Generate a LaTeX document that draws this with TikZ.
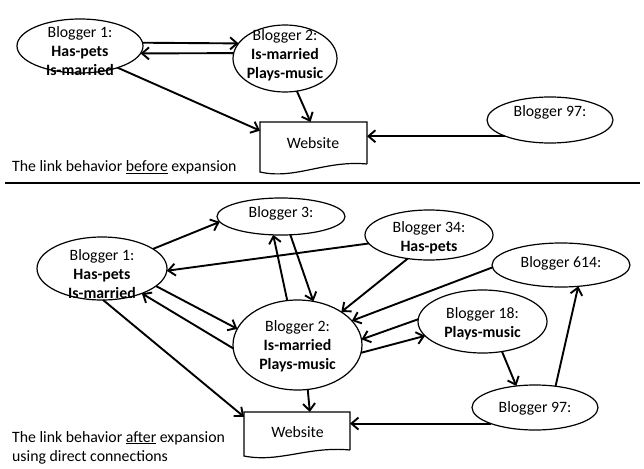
\documentclass[tikz,border=0pt]{standalone}
\usepackage{fontspec}
\setmainfont{Carlito}
\usetikzlibrary{shapes.geometric,arrows.meta,calc}
\tikzset{
  blog/.style={ellipse, draw, line width=1.2pt, inner sep=0pt, outer sep=0pt},
  txt/.style={align=center, inner sep=0pt, font=\fontsize{15.8pt}{19pt}\selectfont},
  captxt/.style={align=left, anchor=west, inner sep=0pt, font=\fontsize{15.8pt}{19pt}\selectfont},
  webbox/.style={rectangle, inner sep=0pt, outer sep=0pt},
  webline/.style={line width=1.2pt, line join=miter},
  arr/.style={line width=1.9pt, -{Straight Barb[length=7pt,width=12pt]}},
  sepline/.style={line width=2.4pt}
}
\begin{document}
\begin{tikzpicture}[x=1pt,y=-1pt]
\useasboundingbox (0,0) rectangle (644,468);
% ---------- top part ----------
\node[blog, minimum width=126pt, minimum height=54pt] (tb1) at (80,46) {};
\node[txt] (tb1t) at (80,51) {Blogger 1:\\\textbf{Has-pets}\\\textbf{Is-married}};
\node[blog, minimum width=104pt, minimum height=67pt] (tb2) at (285,58.5) {};
\node[txt] (tb2t) at (285,55) {Blogger 2:\\\textbf{Is-married}\\\textbf{Plays-music}};
\node[blog, minimum width=126pt, minimum height=46pt] (tb97) at (550,120) {};
\node[txt] (tb97t) at (550,112) {Blogger 97:};
\node[webbox, minimum width=107pt, minimum height=42pt] (tw) at (313.5,143) {};
\node[txt] (twt) at (313,143) {Website};
\draw[webline] (tw.south east) -- (tw.north east) -- (tw.north west) -- ($(tw.south west)+(0,8)$)
  .. controls ($(tw.south west)+(35,16)$) and ($(tw.south east)+(-42,-4)$) .. (tw.south east);
\node[captxt] (tcap) at (12,167) {The link behavior \underline{before} expansion};

\draw[arr] (tb1.3) -- (tb2.162);
\draw[arr] (tb2.174) -- (tb1.-7);
\draw[arr] (tb1.-30) -- (tw.167);
\draw[arr] (tb2.-70) -- (tw.98);
\draw[arr] (tb97.200) -- (tb97.200 -| tw.east);

% separator
\coordinate (sl) at (5,183);
\coordinate (sr) at (640,183);
\draw[sepline] (sl) -- (sr);

% ---------- bottom part ----------
\node[blog, minimum width=128pt, minimum height=37pt] (b3) at (281,216.5) {};
\node[txt] (b3t) at (281,213) {Blogger 3:};
\node[blog, minimum width=130pt, minimum height=63pt] (b1) at (102,268.5) {};
\node[txt] (b1t) at (102,274) {Blogger 1:\\\textbf{Has-pets}\\\textbf{Is-married}};
\node[blog, minimum width=128pt, minimum height=50pt] (b34) at (429,235) {};
\node[txt] (b34t) at (429,237.5) {Blogger 34:\\\textbf{Has-pets}};
\node[blog, minimum width=138pt, minimum height=44pt] (b614) at (561,265) {};
\node[txt] (b614t) at (561,263) {Blogger 614:};
\node[blog, minimum width=129pt, minimum height=90pt] (b2) at (297.5,345) {};
\node[txt] (b2t) at (297.5,346) {Blogger 2:\\\textbf{Is-married}\\\textbf{Plays-music}};
\node[blog, minimum width=129pt, minimum height=63pt] (b18) at (482.5,321.5) {};
\node[txt] (b18t) at (482.5,324) {Blogger 18:\\\textbf{Plays-music}};
\node[blog, minimum width=126pt, minimum height=45pt] (b97) at (535,407.5) {};
\node[txt] (b97t) at (535,408) {Blogger 97:};
\node[webbox, minimum width=106pt, minimum height=38pt] (bw) at (297,431) {};
\node[txt] (bwt) at (297.5,432) {Website};
\draw[webline] (bw.south east) -- (bw.north east) -- (bw.north west) -- ($(bw.south west)+(0,6)$)
  .. controls ($(bw.south west)+(35,13)$) and ($(bw.south east)+(-42,-4)$) .. (bw.south east);
\node[captxt] (bcap) at (12,447.5) {The link behavior \underline{after} expansion\\using direct connections};

\draw[arr] (b1.21) -- (b3.185);
\draw[arr] (b34.188) -- (b1.-2);
\draw[arr] (b1.-18) -- (b2.165);
\draw[arr] (b2.183) -- (b1.-32);
\draw[arr] (b2.103) -- (b3.247);
\draw[arr] (b3.-63) -- (b2.70);
\draw[arr] (b1.-88) -- (bw.165);
\draw[arr] (b2.-77) -- (bw.56);
\draw[arr] (b34.228) -- (b2.37);
\draw[arr] (b614.182) -- (b2.24);
\draw[arr] (b18.178) -- (b2.5);
\draw[arr] (b2.-7) -- (b18.194);
\draw[arr] (b18.-57) -- (b97.131);
\draw[arr] (b97.46) -- (b614.-51);
\draw[arr] (b97.200) -- (b97.200 -| bw.east);
\end{tikzpicture}
\end{document}
